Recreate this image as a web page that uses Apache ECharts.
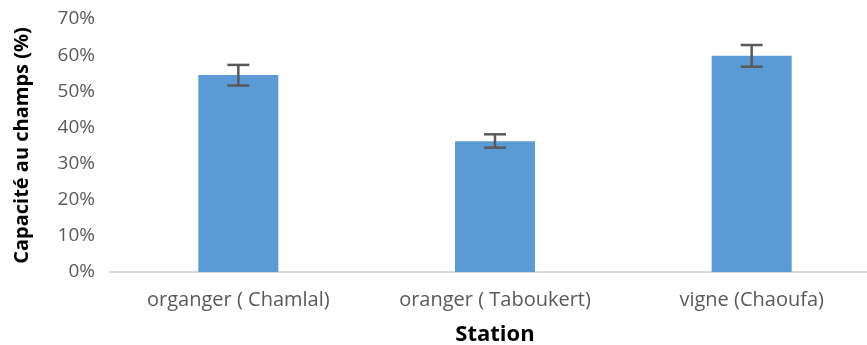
<!DOCTYPE html>
<html><head><meta charset="utf-8">
<script src="https://cdn.jsdelivr.net/npm/echarts@6/dist/echarts.min.js"></script>
<style>html,body{margin:0;padding:0;background:#fff}#c{width:867px;height:345px}</style>
</head><body><div id="c"></div>
<script>
const categories = ['organger ( Chamlal)', 'oranger ( Taboukert)', 'vigne (Chaoufa)'];
const values = [54.5, 36.2, 59.8];
const errLow = [51.6, 34.4, 56.8];
const errHigh = [57.3, 38.1, 62.8];
const yTicks = [0, 10, 20, 30, 40, 50, 60, 70];

const chart = echarts.init(document.getElementById('c'));
chart.setOption({
  animation: false,
  grid: { left: 110, width: 770, top: 19, bottom: 73, containLabel: false, outerBoundsMode: 'none' },
  xAxis: {
    type: 'category', data: categories,
    axisLine: { lineStyle: { color: '#d9d9d9', width: 2 } },
    axisTick: { show: false },
    axisLabel: { color: '#595959', fontSize: 20, fontFamily: 'Open Sans', margin: 18 },
    name: 'Station', nameLocation: 'middle', nameGap: 52,
    nameTextStyle: { color: '#000', fontSize: 22, fontWeight: 'bold', fontFamily: 'Open Sans' }
  },
  yAxis: {
    type: 'value', min: yTicks[0], max: yTicks[yTicks.length - 1], interval: 10,
    axisLine: { show: false }, axisTick: { show: false },
    splitLine: { show: false },
    axisLabel: { color: '#595959', fontSize: 19, fontFamily: 'Open Sans', formatter: v => v + '%', margin: 15 },
    name: 'Capacité au champs (%)', nameLocation: 'middle', nameGap: 78,
    nameTextStyle: { color: '#000', fontSize: 20, fontWeight: 'bold', fontFamily: 'Open Sans' }
  },
  series: [
    { type: 'bar', data: values, barWidth: 80, itemStyle: { color: '#5B9BD5' } },
    {
      type: 'custom',
      data: categories.map((c, i) => [i, errLow[i], errHigh[i]]),
      renderItem: function (params, api) {
        const x = api.value(0);
        const lo = api.coord([x, api.value(1)]);
        const hi = api.coord([x, api.value(2)]);
        const hw = 11;
        const st = { stroke: '#595959', lineWidth: 2.5 };
        return { type: 'group', children: [
          { type: 'line', shape: { x1: lo[0], y1: lo[1], x2: hi[0], y2: hi[1] }, style: st },
          { type: 'line', shape: { x1: lo[0] - hw, y1: lo[1], x2: lo[0] + hw, y2: lo[1] }, style: st },
          { type: 'line', shape: { x1: hi[0] - hw, y1: hi[1], x2: hi[0] + hw, y2: hi[1] }, style: st }
        ]};
      },
      z: 10
    }
  ]
});
</script></body></html>
